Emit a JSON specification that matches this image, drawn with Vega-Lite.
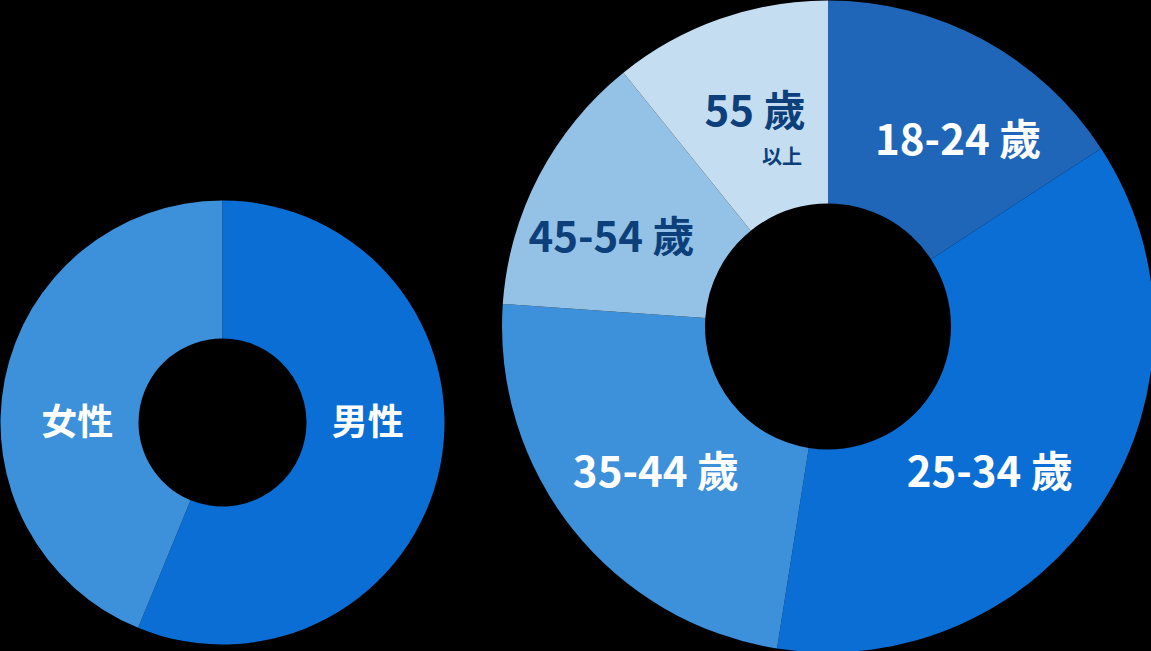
{
  "$schema": "https://vega.github.io/schema/vega-lite/v6.json",
  "background": "#000000",
  "padding": 0,
  "spacing": 57,
  "resolve": {"scale": {"color": "independent", "theta": "independent"}},
  "hconcat": [
    {
      "width": 443,
      "height": 651,
      "data": {
        "values": [
          {"label": "男性", "share": 56.2, "order": 1},
          {"label": "女性", "share": 43.8, "order": 2}
        ]
      },
      "encoding": {
        "theta": {"field": "share", "type": "quantitative", "stack": true},
        "order": {"field": "order", "type": "quantitative"}
      },
      "layer": [
        {
          "mark": {"type": "arc", "innerRadius": 84, "outerRadius": 222, "yOffset": 96},
          "encoding": {
            "color": {
              "field": "label",
              "type": "nominal",
              "legend": null,
              "scale": {"domain": ["男性", "女性"], "range": ["#0b6ed5", "#3d90da"]}
            }
          }
        },
        {
          "mark": {"type": "text", "radius": 148, "yOffset": 96, "dy": -27,
            "font": "Noto Sans CJK TC", "fontWeight": "bold", "fontSize": 36,
            "color": "#ffffff", "align": "center", "baseline": "middle"},
          "encoding": {"text": {"condition": {"test": "datum.order == 1", "field": "label"}, "value": ""}}
        },
        {
          "mark": {"type": "text", "radius": 148, "yOffset": 96, "dy": 30,
            "font": "Noto Sans CJK TC", "fontWeight": "bold", "fontSize": 36,
            "color": "#ffffff", "align": "center", "baseline": "middle"},
          "encoding": {"text": {"condition": {"test": "datum.order == 2", "field": "label"}, "value": ""}}
        }
      ]
    },
    {
      "width": 652,
      "height": 651,
      "data": {
        "values": [
          {"label": "18-24 歲", "share": 15.8, "order": 1},
          {"label": "25-34 歲", "share": 36.7, "order": 2},
          {"label": "35-44 歲", "share": 23.6, "order": 3},
          {"label": "45-54 歲", "share": 13.1, "order": 4},
          {"label": "55 歲", "share": 10.8, "order": 5}
        ]
      },
      "encoding": {
        "theta": {"field": "share", "type": "quantitative", "stack": true},
        "order": {"field": "order", "type": "quantitative"}
      },
      "layer": [
        {
          "mark": {"type": "arc", "innerRadius": 123, "outerRadius": 326},
          "encoding": {
            "color": {
              "field": "label",
              "type": "nominal",
              "legend": null,
              "scale": {
                "domain": ["18-24 歲", "25-34 歲", "35-44 歲", "45-54 歲", "55 歲"],
                "range": ["#1f66b9", "#0b6ed5", "#3d90da", "#94c2e6", "#c5ddf0"]
              }
            }
          }
        },
        {
          "mark": {"type": "text", "radius": 225, "dx": 23, "dy": 13,
            "font": "Noto Sans CJK TC", "fontWeight": "bold", "fontSize": 42,
            "color": "#ffffff", "align": "center", "baseline": "middle"},
          "encoding": {"text": {"condition": {"test": "datum.order == 1", "field": "label"}, "value": ""}}
        },
        {
          "mark": {"type": "text", "radius": 225, "dx": -27, "dy": 25,
            "font": "Noto Sans CJK TC", "fontWeight": "bold", "fontSize": 42,
            "color": "#ffffff", "align": "center", "baseline": "middle"},
          "encoding": {"text": {"condition": {"test": "datum.order == 2", "field": "label"}, "value": ""}}
        },
        {
          "mark": {"type": "text", "radius": 225, "dx": 4, "dy": 7,
            "font": "Noto Sans CJK TC", "fontWeight": "bold", "fontSize": 42,
            "color": "#ffffff", "align": "center", "baseline": "middle"},
          "encoding": {"text": {"condition": {"test": "datum.order == 3", "field": "label"}, "value": ""}}
        },
        {
          "mark": {"type": "text", "radius": 225, "dx": -17, "dy": 17,
            "font": "Noto Sans CJK TC", "fontWeight": "bold", "fontSize": 42,
            "color": "#0d3f7a", "align": "center", "baseline": "middle"},
          "encoding": {"text": {"condition": {"test": "datum.order == 4", "field": "label"}, "value": ""}}
        },
        {
          "mark": {"type": "text", "radius": 225, "dx": 2, "dy": -1,
            "font": "Noto Sans CJK TC", "fontWeight": "bold", "fontSize": 42,
            "color": "#0d3f7a", "align": "center", "baseline": "middle"},
          "encoding": {"text": {"condition": {"test": "datum.order == 5", "field": "label"}, "value": ""}}
        },
        {
          "mark": {"type": "text", "radius": 225, "dx": 29, "dy": 44,
            "font": "Noto Sans CJK TC", "fontWeight": "bold", "fontSize": 20,
            "color": "#0d3f7a", "align": "center", "baseline": "middle"},
          "encoding": {"text": {"condition": {"test": "datum.order == 5", "value": "以上"}, "value": ""}}
        }
      ]
    }
  ],
  "config": {
    "view": {"stroke": null}
  }
}
